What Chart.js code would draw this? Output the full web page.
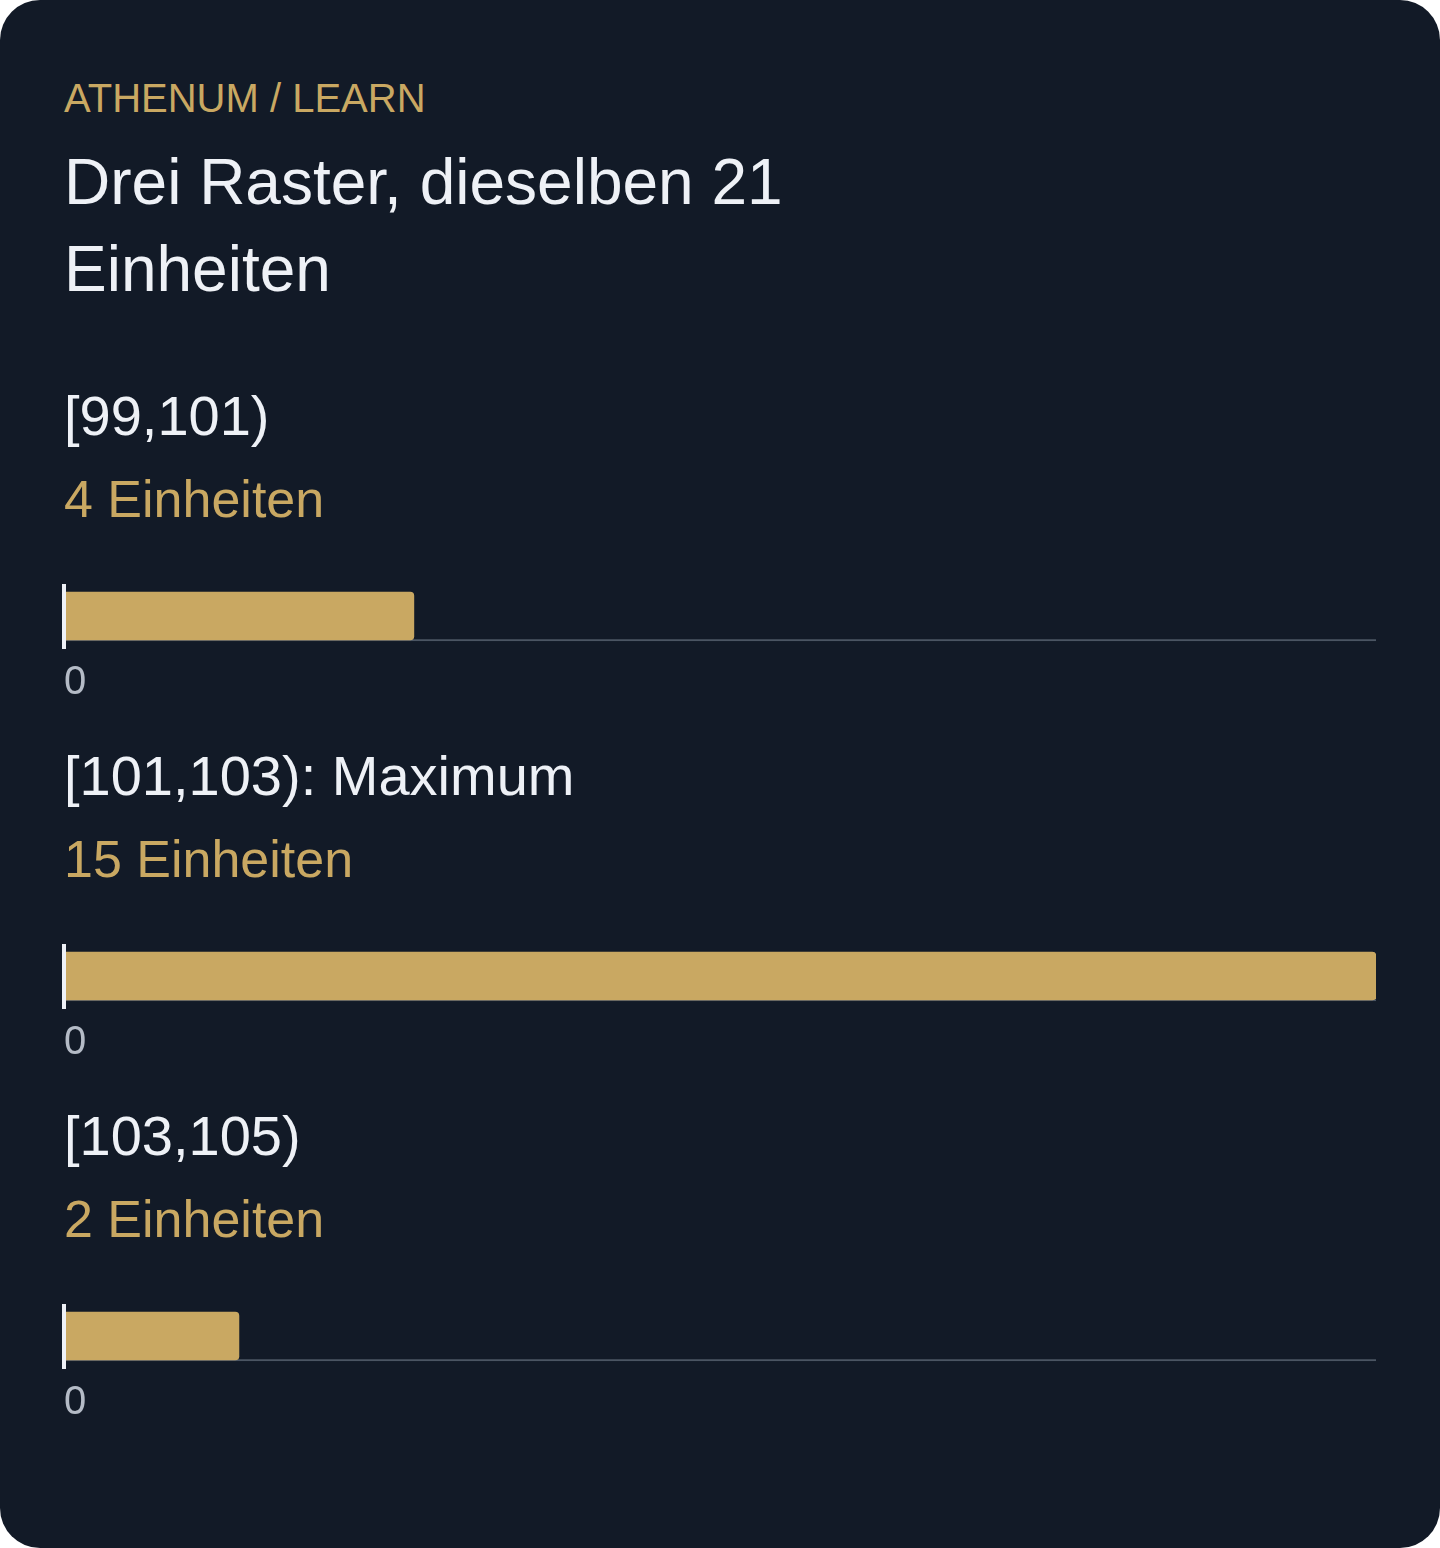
<!DOCTYPE html>
<html lang="de">
<head>
<meta charset="utf-8">
<title>Drei Raster, dieselben 21 Einheiten</title>
<script src="https://cdn.jsdelivr.net/npm/chart.js@4/dist/chart.umd.min.js"></script>
<style>
  html, body { margin: 0; padding: 0; background: #ffffff; }
  body { font-family: "Liberation Sans", Arial, sans-serif; }
  .card {
    width: 1440px;
    height: 1548px;
    box-sizing: border-box;
    padding: 64px;
    background: #121a27;
    border-radius: 40px;
    overflow: hidden;
  }
  .eyebrow {
    margin-top: 10px;
    font-size: 40px;
    line-height: 48px;
    color: #c9a862;
  }
  h1 {
    margin: 17px 0 0;
    max-width: 800px;
    font-size: 64px;
    line-height: 87px;
    font-weight: 400;
    color: #eef1f6;
  }
  .section { margin-top: 37px; }
  .section:first-child { margin-top: 71px; }
  .bin {
    font-size: 56px;
    line-height: 64px;
    color: #eef1f6;
  }
  .count {
    margin-top: 19px;
    font-size: 52px;
    line-height: 64px;
    color: #c9a862;
  }
  /* box starts 4px left so the axis line is not clipped */
  .chart-box {
    position: relative;
    margin: 53px 0 0 -4px;
    width: 1316px;
    height: 123px;
  }
</style>
</head>
<body>
<div class="card">
  <div class="eyebrow">ATHENUM / LEARN</div>
  <h1>Drei Raster, dieselben 21 Einheiten</h1>
  <div id="sections"></div>
</div>

<script>
// Klassen (Raster) und Anzahl der Einheiten je Klasse
const bins = ["[99,101)", "[101,103)", "[103,105)"];
const binNotes = ["", "Maximum", ""];
const counts = [4, 15, 2];
const unitName = "Einheiten";
const xTicks = [0];

const GOLD = "#c9a862";
const WHITE = "#eef1f6";
const TICK = "#b4bbc6";
const TRACK = "#4b5563";

Chart.defaults.font.family = '"Liberation Sans", Arial, sans-serif';

const maxCount = Math.max(...counts);

function makeChart(canvas, i) {
  return new Chart(canvas.getContext("2d"), {
    type: "bar",
    data: {
      labels: [bins[i]],
      datasets: [
        {
          label: unitName,
          data: [counts[i]],
          backgroundColor: GOLD,
          borderRadius: 4,
          borderSkipped: "start",
          barThickness: 48,
          grouped: false,
        },
        {
          // Linie am Boden der Spur, reicht bis zum Maximum
          label: "Skala",
          data: [maxCount],
          backgroundColor: "transparent",
          borderColor: TRACK,
          borderWidth: { top: 0, right: 0, bottom: 1.5, left: 0 },
          borderSkipped: false,
          barThickness: 50,
          grouped: false,
        },
      ],
    },
    options: {
      indexAxis: "y",
      responsive: true,
      maintainAspectRatio: false,
      animation: false,
      layout: { padding: { left: 4, right: 0, top: 0, bottom: 0 } },
      plugins: {
        legend: { display: false },
        tooltip: { enabled: false },
      },
      scales: {
        x: {
          type: "linear",
          position: "bottom",
          min: 0,
          max: maxCount,
          afterBuildTicks: (axis) => {
            axis.ticks = xTicks.map((v) => ({ value: v }));
          },
          grid: {
            color: "transparent",
            drawOnChartArea: false,
            drawTicks: true,
            tickLength: 11,
          },
          border: { display: false },
          ticks: {
            color: TICK,
            font: { size: 40 },
            padding: 0,
            align: "start",
            maxRotation: 0,
            autoSkip: false,
          },
        },
        y: {
          type: "category",
          grid: {
            color: "transparent",
            drawOnChartArea: false,
            drawTicks: false,
          },
          border: { display: true, color: WHITE, width: 4, z: 1 },
          ticks: { display: false },
        },
      },
    },
  });
}

document.addEventListener("DOMContentLoaded", () => {
  const holder = document.getElementById("sections");
  bins.forEach((bin, i) => {
    const section = document.createElement("div");
    section.className = "section";

    const title = document.createElement("div");
    title.className = "bin";
    title.textContent = binNotes[i] ? bin + ": " + binNotes[i] : bin;

    const count = document.createElement("div");
    count.className = "count";
    count.textContent = counts[i] + " " + unitName;

    const box = document.createElement("div");
    box.className = "chart-box";
    const canvas = document.createElement("canvas");
    box.appendChild(canvas);

    section.append(title, count, box);
    holder.appendChild(section);
    makeChart(canvas, i);
  });
});
</script>
</body>
</html>
